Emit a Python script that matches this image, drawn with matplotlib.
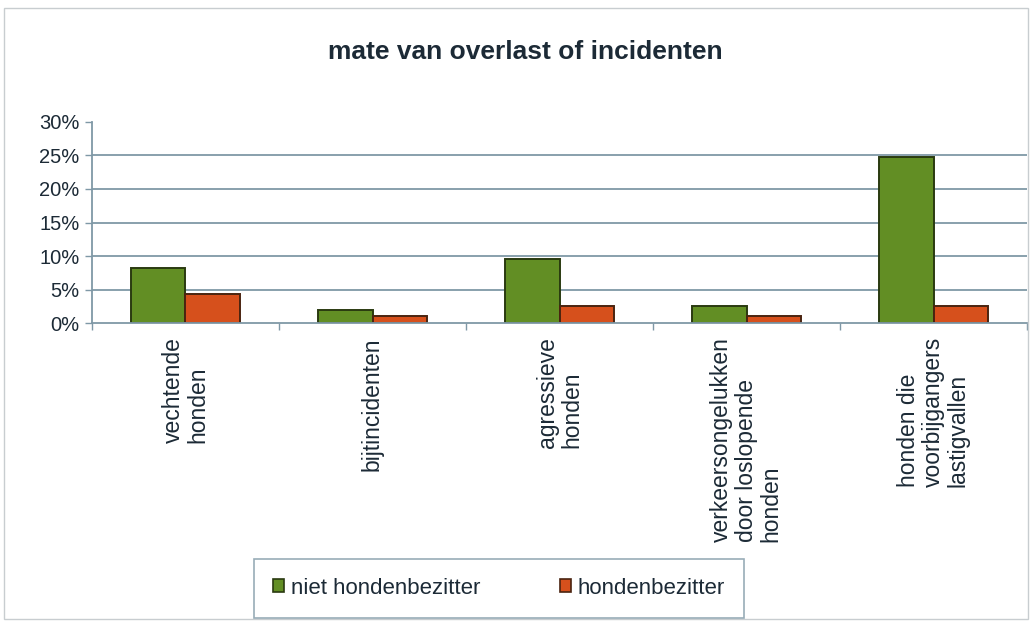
import matplotlib.pyplot as plt
import numpy as np
from matplotlib.patches import Rectangle

plt.rcParams['font.family'] = ['Liberation Sans', 'DejaVu Sans']

# data
categorieen = ['vechtende\nhonden', 'bijtincidenten', 'agressieve\nhonden',
               'verkeersongelukken\ndoor loslopende\nhonden',
               'honden die\nvoorbijgangers\nlastigvallen']
niet_bezitter = [8.2, 1.9, 9.5, 2.6, 24.8]
bezitter = [4.3, 1.0, 2.5, 1.0, 2.6]
yticks = [0, 5, 10, 15, 20, 25, 30]

tekst = '#1c2a36'
lijn = '#7f98a6'

fig = plt.figure(figsize=(10.31, 6.25), dpi=100)
fig.patches.append(Rectangle((0.004, 0.01), 0.993, 0.978, transform=fig.transFigure,
                             fill=False, edgecolor='#c8cdd0', linewidth=1))
ax = fig.add_axes([0.0892, 0.483, 0.907, 0.322])

x = np.arange(len(categorieen))
w = 0.29
ax.bar(x - w / 2, niet_bezitter, w, color='#628e24', edgecolor='#2a3a10',
       linewidth=1.4, label='niet hondenbezitter')
ax.bar(x + w / 2, bezitter, w, color='#d6501c', edgecolor='#4a2410',
       linewidth=1.4, label='hondenbezitter')

ax.set_xlim(-0.5, len(categorieen) - 0.5)
ax.set_ylim(0, 30)
ax.set_yticks(yticks)
ax.set_yticklabels([f'{v}%' for v in yticks], fontsize=14.5, color=tekst)
for v in yticks[1:-1]:
    ax.axhline(v, color=lijn, linewidth=1.3, zorder=0)

ax.set_xticks(x)
ax.set_xticklabels(categorieen, rotation=90, fontsize=16.5, color=tekst,
                   va='top', ha='center', multialignment='left', linespacing=1.1)
ax.tick_params(axis='x', length=0, pad=10)
ax.set_xticks(np.arange(-0.5, len(categorieen)), minor=True)
ax.tick_params(axis='x', which='minor', length=5, color=lijn, width=1)
ax.tick_params(axis='y', length=5, color=lijn, width=1, pad=4)

for s in ['top', 'right']:
    ax.spines[s].set_visible(False)
ax.spines['left'].set_color(lijn)
ax.spines['bottom'].set_color(lijn)
ax.spines['left'].set_linewidth(1.3)
ax.spines['bottom'].set_linewidth(1.3)

fig.text(0.51, 0.917, 'mate van overlast of incidenten', ha='center', va='center',
         fontsize=19, fontweight='bold', color=tekst)

leg = fig.legend(loc='center', bbox_to_anchor=(0.484, 0.059), ncol=2, fontsize=16,
                 frameon=True, fancybox=False, handlelength=0.5, handleheight=0.5,
                 handletextpad=0.3, columnspacing=3.6, borderpad=0.85,
                 borderaxespad=0, labelcolor=tekst)
leg.get_frame().set_edgecolor(lijn)
leg.get_frame().set_linewidth(1.2)
for h in leg.legend_handles:
    h.set_linewidth(1.2)

fig.savefig('out.png', dpi=100)
